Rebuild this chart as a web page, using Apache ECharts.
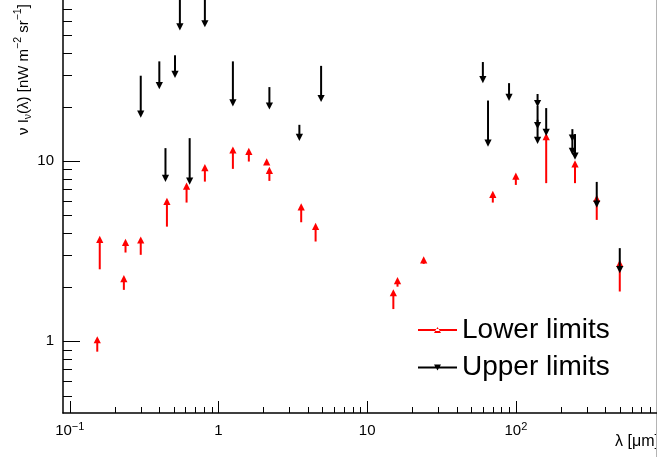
<!DOCTYPE html>
<html><head><meta charset="utf-8">
<script src="https://cdn.jsdelivr.net/npm/echarts@6/dist/echarts.min.js"></script>
<style>html,body{margin:0;padding:0;background:#fff}#c{width:657px;height:457px}</style>
</head><body><div id="c"></div>
<script>
// ---- data (wavelength in micron, nu I_nu in nW m^-2 sr^-1) ----
const lowerX   = [0.153, 0.159, 0.231, 0.237, 0.30, 0.45, 0.61, 0.81, 1.25, 1.6, 2.11, 2.2, 3.6, 4.5, 15, 16, 24, 70, 100, 160, 250, 350, 500];
const lowerY   = [1.02, 3.68, 2.23, 3.54, 3.65, 5.98, 7.27, 9.20, 11.53, 11.34, 9.91, 8.89, 5.57, 4.34, 1.86, 2.17, 2.83, 6.54, 8.26, 13.68, 9.66, 6.21, 2.71];
const lowerEnd = [0.876, 2.51, 1.93, 3.11, 3.02, 4.33, 5.89, 7.70, 9.06, 9.95, 9.54, 7.77, 4.58, 3.58, 1.51, 2.01, 2.69, 5.89, 7.38, 7.55, 7.55, 4.72, 1.89];

const upperX   = [0.30, 0.40, 0.44, 0.51, 0.55, 0.64, 0.81, 1.25, 2.2, 3.5, 4.9, 60, 65, 90, 140, 140, 140, 160, 240, 240, 250, 350, 500];
const upperY   = [18.24, 26.27, 8.02, 30.35, 55.7, 7.75, 57.9, 21.08, 20.24, 13.56, 22.27, 28.37, 12.6, 22.6, 20.9, 15.77, 13.05, 14.45, 13.44, 11.34, 10.67, 5.77, 2.50];
const upperEnd = [29.8, 35.8, 11.81, 38.7, 95, 13.42, 90, 35.8, 25.77, 15.91, 33.8, 35.5, 21.7, 27.1, 23.6, 20.3, 16.96, 19.7, 15.06, 14.0, 14.13, 7.67, 3.29];

const seriesNames = ['Lower limits', 'Upper limits'];
const xTitle = 'λ [μm]';
const yTitle = 'ν I{sub|ν}(λ) [nW m{sup|−2} sr{sup|−1}]';

// ---- axis ranges ----
const X_MIN = 0.09, X_MAX = 890, Y_MIN = 0.4, Y_MAX = 100;
const FONT = '"Liberation Sans", Arial, Helvetica, sans-serif';

const chart = echarts.init(document.getElementById('c'), null, {renderer: 'canvas'});

function rows(xs, ys, ends) { return xs.map((x, i) => [x, ys[i], ends[i]]); }

function arrowRender(dir, color) {
  return function (params, api) {
    const p = api.coord([api.value(0), api.value(1)]);
    const e = api.coord([api.value(0), api.value(2)]);
    const hw = 3.6, hh = 3.6;
    const tri = dir > 0
      ? [[p[0] - hw, p[1] + hh], [p[0] + hw, p[1] + hh], [p[0], p[1] - hh]]
      : [[p[0] - hw, p[1] - hh], [p[0] + hw, p[1] - hh], [p[0], p[1] + hh]];
    return {type: 'group', children: [
      {type: 'line', shape: {x1: p[0], y1: p[1], x2: e[0], y2: e[1]}, style: {stroke: color, lineWidth: 2}},
      {type: 'polygon', shape: {points: tri}, style: {fill: color}}
    ]};
  };
}

const mults = [1, 2, 3, 4, 5, 6, 7, 8, 9];
const decades = [-2, -1, 0, 1, 2, 3];
function tickRender(params, api) {
  const ch = [];
  decades.forEach(d => mults.forEach(m => {
    const v = m * Math.pow(10, d);
    if (v > X_MIN && v < X_MAX) {
      const p = api.coord([v, Y_MIN]);
      const L = m === 1 ? 12 : 6;
      const x = Math.round(p[0]) + 0.5;
      ch.push({type: 'line', shape: {x1: x, y1: p[1], x2: x, y2: p[1] - L}, style: {stroke: '#000', lineWidth: 1}});
    }
    if (v > Y_MIN && v < Y_MAX) {
      const p = api.coord([X_MIN, v]);
      const L = m === 1 ? 17 : 9;
      const y = Math.round(p[1]) + 0.5;
      ch.push({type: 'line', shape: {x1: p[0], y1: y, x2: p[0] + L, y2: y}, style: {stroke: '#000', lineWidth: 1}});
    }
  }));
  return {type: 'group', children: ch};
}

function powLabel(v) {
  const l = Math.log10(v), e = Math.round(l);
  if (Math.abs(l - e) > 1e-6) return '';
  if (e === 0) return '1';
  if (e === 1) return '10';
  return '10{sup|' + (e < 0 ? '−' : '') + Math.abs(e) + '}';
}
const labelRich = {sup: {fontSize: 11, lineHeight: 11, verticalAlign: 'top', color: '#000', fontFamily: FONT}};

const legendText = {fontSize: 28, fontFamily: FONT, color: '#000', lineHeight: 30};

chart.setOption({
  animation: false,
  backgroundColor: '#fff',
  grid: {left: 63, right: 0, top: -19, bottom: 44, containLabel: false, outerBoundsMode: 'none'},
  xAxis: {
    type: 'log', logBase: 10, min: X_MIN, max: X_MAX,
    axisLine: {show: true, onZero: false, lineStyle: {color: '#000', width: 1.5}},
    axisTick: {show: false}, minorTick: {show: false}, splitLine: {show: false},
    axisLabel: {formatter: powLabel, rich: labelRich, fontSize: 15, lineHeight: 20, fontFamily: FONT, color: '#000', margin: 8}
  },
  yAxis: {
    type: 'log', logBase: 10, min: Y_MIN, max: Y_MAX,
    axisLine: {show: true, onZero: false, lineStyle: {color: '#000', width: 1.5}},
    axisTick: {show: false}, minorTick: {show: false}, splitLine: {show: false},
    axisLabel: {formatter: powLabel, rich: labelRich, fontSize: 15, fontFamily: FONT, color: '#000', margin: 9}
  },
  legend: [
    {data: [{name: seriesNames[0], icon: 'path://M0,2H39V4H0Z M16,6L23,6L19.5,0Z'}],
     left: 418, top: 315, itemWidth: 39, itemHeight: 6, padding: 0, selectedMode: false, textStyle: legendText},
    {data: [{name: seriesNames[1], icon: 'path://M0,2H39V4H0Z M16,0L23,0L19.5,6Z'}],
     left: 418, top: 352.5, itemWidth: 39, itemHeight: 6, padding: 0, selectedMode: false, textStyle: legendText}
  ],
  graphic: [
    {type: 'text', x: 34, y: 135, rotation: Math.PI / 2, silent: true,
     style: {text: yTitle, fontSize: 15, lineHeight: 21, fontFamily: FONT, fill: '#000',
             align: 'left', verticalAlign: 'bottom', textAlign: 'left', textVerticalAlign: 'bottom',
             rich: {sub: {fontSize: 10.5, lineHeight: 10, verticalAlign: 'bottom', fill: '#000', fontFamily: FONT},
                    sup: {fontSize: 10.5, lineHeight: 10, verticalAlign: 'top', fill: '#000', fontFamily: FONT}}}},
    {type: 'text', x: 659, y: 442, silent: true,
     style: {text: xTitle, fontSize: 16, fontFamily: FONT, fill: '#000', align: 'right', verticalAlign: 'middle', textAlign: 'right', textVerticalAlign: 'middle'}},
    {type: 'line', silent: true, shape: {x1: 656.5, y1: 0, x2: 656.5, y2: 457}, style: {stroke: '#b4b4b4', lineWidth: 1}}
  ],
  series: [
    {type: 'custom', name: 'axisTicks', coordinateSystem: 'cartesian2d', data: [[1, 1]], renderItem: tickRender, silent: true, z: 1},
    {type: 'custom', name: seriesNames[0], coordinateSystem: 'cartesian2d', itemStyle: {color: '#ff0000'},
     data: rows(lowerX, lowerY, lowerEnd), renderItem: arrowRender(1, '#ff0000'), silent: true, z: 3},
    {type: 'custom', name: seriesNames[1], coordinateSystem: 'cartesian2d', itemStyle: {color: '#000000'},
     data: rows(upperX, upperY, upperEnd), renderItem: arrowRender(-1, '#000000'), silent: true, z: 4}
  ]
});
</script></body></html>
